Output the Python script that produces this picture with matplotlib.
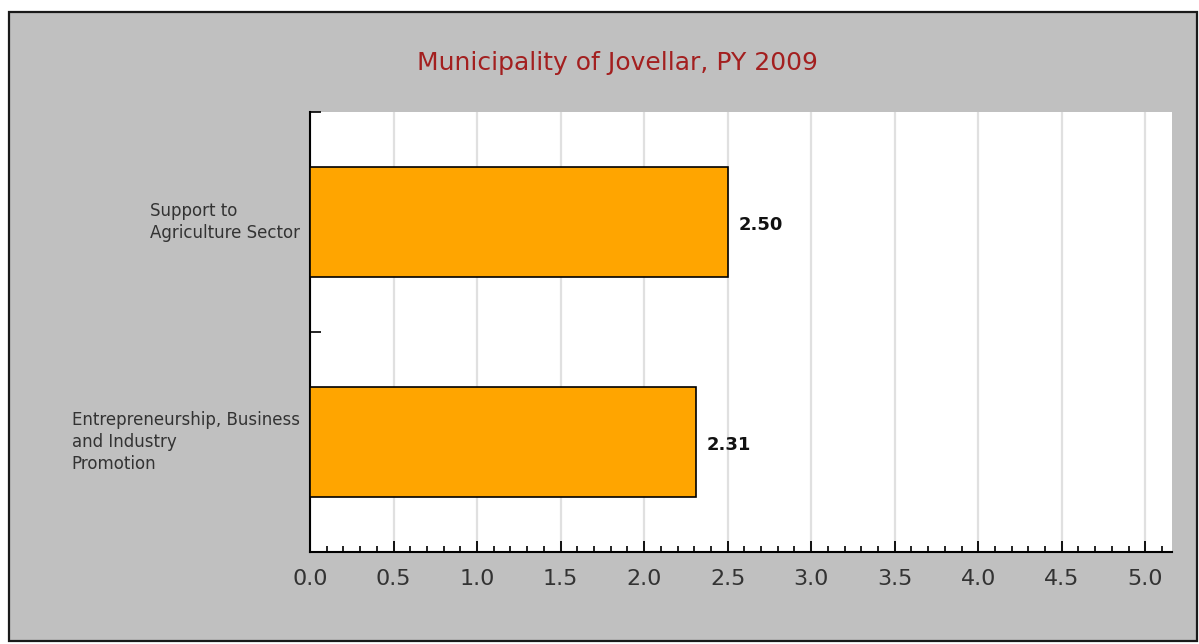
from matplotlib import pyplot
from matplotlib import patches
from matplotlib.ticker import MultipleLocator, FixedLocator

pyplot.rcParams['font.family'] = ['DejaVu Sans']

categories = ["Support to\nAgriculture Sector", "Entrepreneurship, Business\nand Industry\nPromotion"]
values = [2.50, 2.31]
value_labels = ["2.50", "2.31"]
title = "Municipality of Jovellar, PY 2009"

fig = pyplot.figure(figsize=(11.99, 6.44), dpi=100)
fig.patch.set_facecolor('white')

# grey panel with black frame
W, H = 1199.0, 644.0
frame = patches.Rectangle((9 / W, 1 - 641 / H), (1197 - 9) / W, (641 - 12) / H,
                          transform=fig.transFigure, facecolor='#C0C0C0',
                          edgecolor='#1a1a1a', linewidth=1.6, zorder=-5)
fig.patches.append(frame)

ax = fig.add_axes([310 / W, 1 - 552 / H, (1172 - 310) / W, (552 - 112) / H])
ax.set_zorder(2)
ax.set_facecolor('white')

ypos = list(range(len(categories)))
ax.barh(ypos, values, height=0.5, color='#FFA500', edgecolor='black', linewidth=1.2, zorder=3)

for y, v, lab in zip(ypos, values, value_labels):
    ax.annotate(lab, (v, y), xytext=(8, -2), textcoords='offset points',
                ha='left', va='center', fontsize=13, fontweight='bold',
                color='#111111', zorder=4)

for y, cat in zip(ypos, categories):
    ax.text(-0.012, y, cat, transform=ax.get_yaxis_transform(), ha='right', va='center',
            multialignment='left', fontsize=12, color='#333333', linespacing=1.3)

ax.set_xlim(0, 5.16)
ax.set_ylim(1.5, -0.5)

ax.xaxis.set_major_locator(MultipleLocator(0.5))
ax.xaxis.set_minor_locator(MultipleLocator(0.1))
ax.yaxis.set_major_locator(FixedLocator([-0.5, 0.5, 1.5]))
ax.set_yticklabels([])

ax.xaxis.grid(True, which='major', color='#E0E0E0', linewidth=1.6, zorder=0)
ax.set_axisbelow(True)

ax.tick_params(axis='x', which='major', direction='in', length=8, width=1.3,
               labelsize=16, labelcolor='#333333', pad=12)
ax.tick_params(axis='x', which='minor', direction='in', length=4, width=1.2)
ax.tick_params(axis='y', which='major', direction='in', length=8, width=1.2)
ax.set_xticks([i * 0.5 for i in range(11)])
ax.set_xticklabels(["%.1f" % (i * 0.5) for i in range(11)])

ax.spines['top'].set_visible(False)
ax.spines['right'].set_visible(False)
ax.spines['left'].set_linewidth(1.5)
ax.spines['bottom'].set_linewidth(1.5)

fig.text(617 / W, 1 - 63 / H, title, ha='center', va='center', fontsize=18, color='#A31F1F')

pyplot.savefig('out.png', dpi=100, facecolor=fig.get_facecolor())
